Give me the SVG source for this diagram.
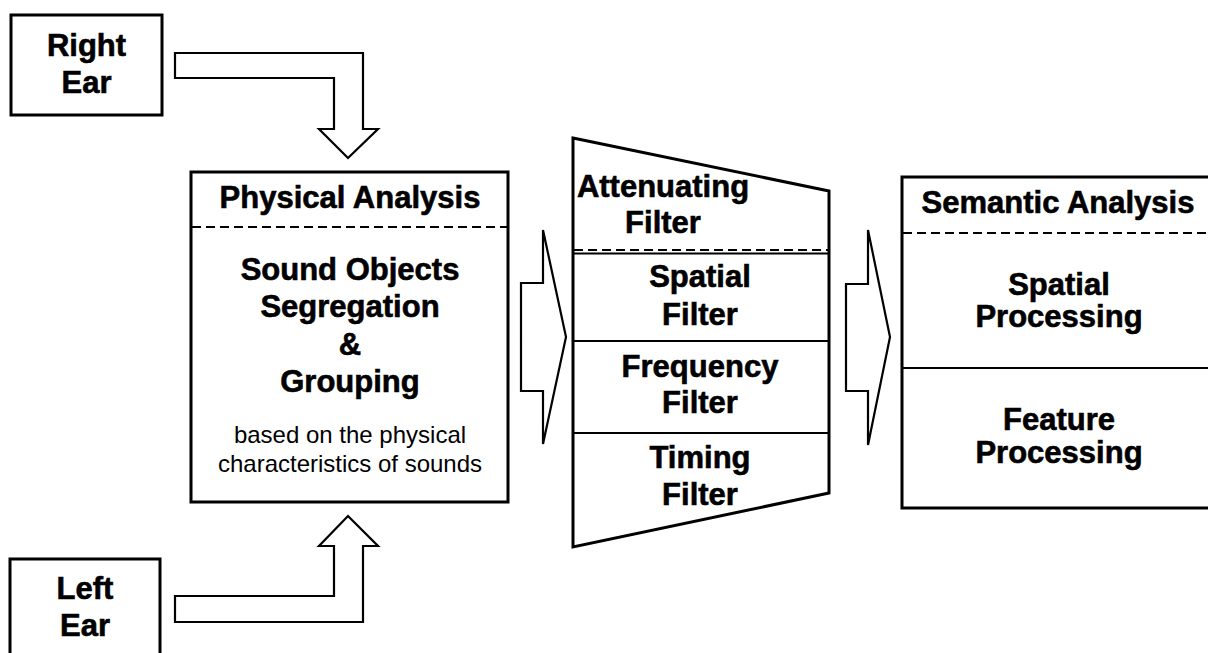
<svg xmlns="http://www.w3.org/2000/svg" width="1208" height="653" viewBox="0 0 1208 653">
<style>
.box{fill:#fff;stroke:#000;stroke-width:3}
.arr{fill:#fff;stroke:#000;stroke-width:2.2;stroke-linejoin:miter}
.ln{stroke:#000;stroke-width:2;fill:none}
.dash{stroke:#000;stroke-width:2;stroke-dasharray:9,5;fill:none}
.t{font-family:"Liberation Sans",Arial,sans-serif;font-weight:bold;font-size:31px;text-anchor:middle;fill:#000;stroke:#000;stroke-width:0.6}
.s{font-family:"Liberation Sans",Arial,sans-serif;font-size:24px;text-anchor:middle;fill:#000}
</style>
<rect width="1208" height="653" fill="#fff"/>
<g id="connectors">
<path class="arr" d="M175,53 H363 V129 H378 L348,158 L319,129 H334 V78 H175 Z"/>
<path class="arr" d="M175,622 H363 V546 H378 L348,516 L319,546 H334 V596 H175 Z"/>
<path class="arr" d="M521,283 H543 V230 L566,337 L543,444 V391 H521 Z"/>
<path class="arr" d="M846,284 H868 V230 L890,337 L868,445 V391 H846 Z"/>
</g>
<g id="right-ear">
<rect class="box" x="11" y="15" width="151" height="100"/>
<text class="t" x="86.5" y="56">Right</text>
<text class="t" x="86.5" y="93">Ear</text>
</g>
<g id="left-ear">
<rect class="box" x="10" y="559" width="150" height="110"/>
<text class="t" x="85" y="599">Left</text>
<text class="t" x="85" y="636">Ear</text>
</g>
<g id="physical-analysis">
<rect class="box" x="191" y="172" width="317" height="330"/>
<line class="dash" x1="192" y1="227" x2="507" y2="227"/>
<text class="t" x="350" y="208">Physical Analysis</text>
<text class="t" x="350" y="280">Sound Objects</text>
<text class="t" x="350" y="317">Segregation</text>
<text class="t" x="350" y="355">&amp;</text>
<text class="t" x="350" y="392">Grouping</text>
<text class="s" x="350" y="443">based on the physical</text>
<text class="s" x="350" y="472">characteristics of sounds</text>
</g>
<g id="filters">
<path class="box" d="M573,138 L829,191 V493 L573,547 Z"/>
<line class="dash" x1="574" y1="250" x2="828" y2="250"/>
<line class="ln" x1="574" y1="253.5" x2="828" y2="253.5"/>
<line class="ln" x1="574" y1="341" x2="828" y2="341"/>
<line class="ln" x1="574" y1="433" x2="828" y2="433"/>
<text class="t" x="663" y="197">Attenuating</text>
<text class="t" x="663" y="233">Filter</text>
<text class="t" x="700" y="287">Spatial</text>
<text class="t" x="700" y="325">Filter</text>
<text class="t" x="700" y="377">Frequency</text>
<text class="t" x="700" y="413">Filter</text>
<text class="t" x="700" y="468">Timing</text>
<text class="t" x="700" y="505">Filter</text>
</g>
<g id="semantic-analysis">
<rect class="box" x="902" y="177" width="320" height="331"/>
<line class="dash" x1="903" y1="233" x2="1208" y2="233"/>
<line class="ln" x1="903" y1="368" x2="1208" y2="368"/>
<text class="t" x="1058" y="213">Semantic Analysis</text>
<text class="t" x="1059" y="295">Spatial</text>
<text class="t" x="1059" y="327">Processing</text>
<text class="t" x="1059" y="430">Feature</text>
<text class="t" x="1059" y="463">Processing</text>
</g>
</svg>
